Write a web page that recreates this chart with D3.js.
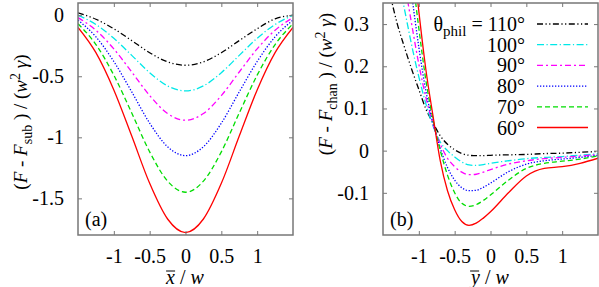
<!DOCTYPE html>
<html>
<head>
<meta charset="utf-8">
<script src="https://cdn.jsdelivr.net/npm/d3@7"></script>
<style>
body { margin: 0; background: #fff; }
text { font-family: "Liberation Serif", "Times New Roman", serif; fill: #000; }
</style>
</head>
<body>
<div id="chart"></div>
<script>
// 数据: 左图 (a)
var xsA = [-1.5, -1.25, -1, -0.75, -0.5, -0.25, 0, 0.25, 0.5, 0.75, 1, 1.25, 1.5];
var a110 = [0.02, -0.033, -0.111, -0.208, -0.307, -0.382, -0.41, -0.382, -0.307, -0.208, -0.111, -0.03, 0.0];
var a100 = [0.0, -0.076, -0.189, -0.329, -0.471, -0.579, -0.62, -0.579, -0.471, -0.329, -0.189, -0.076, 0.0];
var a90 = [-0.02, -0.123, -0.276, -0.465, -0.658, -0.805, -0.86, -0.805, -0.658, -0.465, -0.276, -0.123, -0.02];
var a80 = [-0.04, -0.177, -0.379, -0.628, -0.884, -1.077, -1.15, -1.077, -0.884, -0.628, -0.379, -0.177, -0.04];
var a70 = [-0.07, -0.24, -0.491, -0.801, -1.119, -1.359, -1.45, -1.359, -1.119, -0.801, -0.491, -0.24, -0.07];
var a60 = [-0.1, -0.307, -0.612, -0.99, -1.377, -1.669, -1.78, -1.669, -1.377, -0.99, -0.612, -0.307, -0.1];

// 数据: 右图 (b)
var xsB = [-1.5, -1.4, -1.3, -1.2, -1.1, -1.0, -0.9, -0.8, -0.7, -0.6, -0.5, -0.4, -0.3, -0.2, -0.1, 0, 0.25, 0.5, 0.75, 1.0, 1.25, 1.5];
var b110 = [0.45, 0.37, 0.30, 0.245, 0.193, 0.145, 0.098, 0.065, 0.035, 0.015, 0.002, -0.007, -0.011, -0.012, -0.012, -0.011, -0.010, -0.009, -0.007, -0.006, -0.004, -0.002];
var b100 = [0.58, 0.50, 0.42, 0.335, 0.25, 0.175, 0.11, 0.058, 0.02, 0.0, -0.015, -0.027, -0.034, -0.035, -0.033, -0.030, -0.024, -0.019, -0.016, -0.014, -0.011, -0.007];
var b90 = [0.75, 0.62, 0.50, 0.40, 0.30, 0.205, 0.125, 0.062, 0.015, -0.018, -0.038, -0.051, -0.057, -0.056, -0.051, -0.045, -0.032, -0.024, -0.019, -0.016, -0.013, -0.009];
var b80 = [0.90, 0.75, 0.62, 0.50, 0.37, 0.245, 0.14, 0.065, 0.005, -0.04, -0.07, -0.088, -0.095, -0.094, -0.087, -0.077, -0.05, -0.032, -0.024, -0.02, -0.016, -0.011];
var b70 = [1.05, 0.87, 0.71, 0.57, 0.43, 0.29, 0.165, 0.072, 0.0, -0.058, -0.10, -0.125, -0.132, -0.128, -0.118, -0.105, -0.07, -0.042, -0.03, -0.025, -0.02, -0.012];
var b60 = [1.2, 1.0, 0.82, 0.65, 0.49, 0.33, 0.19, 0.08, -0.025, -0.095, -0.14, -0.168, -0.177, -0.172, -0.16, -0.145, -0.10, -0.06, -0.042, -0.038, -0.03, -0.018];

var angles = ["110°", "100°", "90°", "80°", "70°", "60°"];
var xTicks = [-1, -0.5, 0, 0.5, 1];
var yTicksA = [0, -0.5, -1, -1.5];
var yTicksB = [0.3, 0.2, 0.1, 0, -0.1];

// 每条线的样式 (颜色, 虚线)
var styles = [
	{ color: "#000000", dash: "6,2.5,1.2,2.5,1.2,2.5" },
	{ color: "#00e8e8", dash: "7,2.5,1.2,2.5" },
	{ color: "#ff00ff", dash: "6,3,2,3" },
	{ color: "#0000ff", dash: "1.3,1.7" },
	{ color: "#00dd00", dash: "5,3" },
	{ color: "#ff0000", dash: null }
];

var W = 599, H = 287;
var FS = 20; // 刻度字号
var svg = d3.select("#chart").append("svg").attr("width", W).attr("height", H);

function panel(id, left, right, xsData, series, yDomain, yTicks) {
	var top = 3, bottom = 235;
	var fmt = d3.format("~g");
	var x = d3.scaleLinear().domain([-1.5, 1.5]).range([left, right]);
	var y = d3.scaleLinear().domain(yDomain).range([bottom, top]);
	var g = svg.append("g");

	g.append("clipPath").attr("id", "clip_" + id).append("rect")
		.attr("x", left).attr("y", top).attr("width", right - left).attr("height", bottom - top);

	// 曲线
	var line = d3.line().x(function(d) { return x(d[0]); }).y(function(d) { return y(d[1]); })
		.curve(d3.curveMonotoneX);
	var lines = g.append("g").attr("clip-path", "url(#clip_" + id + ")");
	series.forEach(function(s, i) {
		var pts = xsData.map(function(v, k) { return [v, s[k]]; });
		lines.append("path").attr("d", line(pts))
			.attr("fill", "none").attr("stroke", styles[i].color).attr("stroke-width", 1.3)
			.attr("stroke-dasharray", styles[i].dash);
	});

	// 刻度 (向内, 四边都有)
	var axisColor = "#777";
	var tl = 4;
	var gb = g.append("g").attr("transform", "translate(0," + bottom + ")")
		.call(d3.axisBottom(x).tickValues(xTicks).tickSize(-tl).tickFormat(fmt));
	var gt = g.append("g").attr("transform", "translate(0," + top + ")")
		.call(d3.axisTop(x).tickValues(xTicks).tickSize(-tl).tickFormat(""));
	var gl = g.append("g").attr("transform", "translate(" + left + ",0)")
		.call(d3.axisLeft(y).tickValues(yTicks).tickSize(-tl).tickFormat(fmt));
	var gr = g.append("g").attr("transform", "translate(" + right + ",0)")
		.call(d3.axisRight(y).tickValues(yTicks).tickSize(-tl).tickFormat(""));
	[gb, gt, gl, gr].forEach(function(a) {
		a.select(".domain").remove();
		a.selectAll(".tick line").attr("stroke", axisColor).attr("stroke-width", 1);
		a.selectAll("text").attr("font-size", FS).attr("fill", "#000");
	});
	gb.selectAll("text").attr("y", 14).attr("dy", "0.71em").text(function(d) { return fmt(d).replace("−", "-"); });
	gl.selectAll("text").attr("x", -14).text(function(d) { return fmt(d).replace("−", "-"); });

	// 边框
	g.append("rect").attr("x", left).attr("y", top).attr("width", right - left).attr("height", bottom - top)
		.attr("fill", "none").attr("stroke", axisColor).attr("stroke-width", 1.5);
	return { x: x, y: y, g: g };
}

var pa = panel("a", 78, 293, xsA, [a110, a100, a90, a80, a70, a60], [-1.8, 0.1], yTicksA);
var pb = panel("b", 383, 598, xsB, [b110, b100, b90, b80, b70, b60], [-0.2, 0.35], yTicksB);

// (a) (b) 标签
pa.g.append("text").attr("x", 85).attr("y", 226).attr("font-size", FS).text("(a)");
pb.g.append("text").attr("x", 390).attr("y", 226).attr("font-size", FS).text("(b)");

// x 轴标题
function xLabel(cx, letter) {
	var t = svg.append("text").attr("x", cx).attr("y", 284).attr("text-anchor", "middle").attr("font-size", FS);
	t.append("tspan").attr("font-style", "italic").text(letter);
	t.append("tspan").text(" / ");
	t.append("tspan").attr("font-style", "italic").text("w");
	// 上划线
	var bb = t.node().getBBox();
	svg.append("line").attr("x1", bb.x + 1).attr("x2", bb.x + 10).attr("y1", bb.y + 5).attr("y2", bb.y + 5)
		.attr("stroke", "#000").attr("stroke-width", 1);
}
xLabel(185, "x");
xLabel(490, "y");

// y 轴标题
function yLabel(tx, ty, sub) {
	var t = svg.append("text").attr("transform", "translate(" + tx + "," + ty + ") rotate(-90)")
		.attr("text-anchor", "middle").attr("font-size", 19);
	t.append("tspan").text("(");
	t.append("tspan").attr("font-style", "italic").text("F");
	t.append("tspan").text(" - ");
	t.append("tspan").attr("font-style", "italic").text("F");
	t.append("tspan").attr("font-size", 14).attr("dy", 5).text(sub);
	t.append("tspan").attr("dy", -5).text(" ) / (");
	t.append("tspan").attr("font-style", "italic").text("w");
	t.append("tspan").attr("font-size", 14).attr("dy", -7).text("2");
	t.append("tspan").attr("dy", 7).text(" ");
	t.append("tspan").attr("font-style", "italic").text("γ");
	t.append("tspan").text(")");
}
yLabel(27, 122, "sub");
yLabel(332, 84, "chan");

// 图例
var legX = 525, legY0 = 24, legDy = 20.7;
var legend = svg.append("g");
angles.forEach(function(a, i) {
	var cy = legY0 + i * legDy;
	var t = legend.append("text").attr("x", legX).attr("y", cy + 7).attr("text-anchor", "end").attr("font-size", 20);
	if (i == 0) {
		t.append("tspan").text("θ");
		t.append("tspan").attr("font-size", 15).attr("dy", 5).text("phil");
		t.append("tspan").attr("dy", -5).text(" = " + a);
	} else {
		t.text(a);
	}
	legend.append("line").attr("x1", 537).attr("x2", 588).attr("y1", cy).attr("y2", cy)
		.attr("stroke", styles[i].color).attr("stroke-width", 1.3).attr("stroke-dasharray", styles[i].dash);
});
</script>
</body>
</html>
